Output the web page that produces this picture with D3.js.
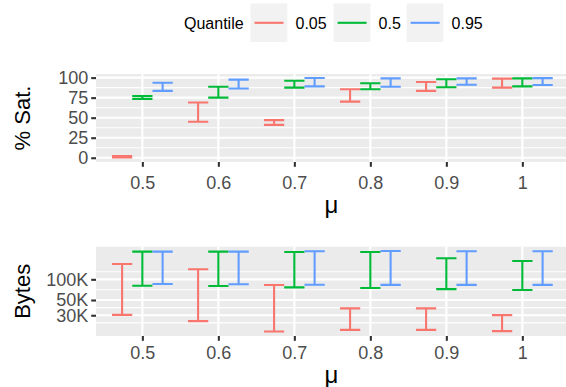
<!DOCTYPE html>
<html>
<head>
<meta charset="utf-8">
<script src="https://cdn.jsdelivr.net/npm/d3@7"></script>
<style>
  body { margin: 0; background: #fff; }
  svg { display: block; font-family: "Liberation Sans", Arial, sans-serif; }
</style>
</head>
<body>
<svg id="chart" width="566" height="387"></svg>
<script>
// categories
const mu = [0.5, 0.6, 0.7, 0.8, 0.9, 1];
const quantiles = ["0.05", "0.5", "0.95"];
const colors = ["#F8766D", "#00BA38", "#619CFF"];

// % Sat. (lower / upper end of each error bar)
const sat05Lo = [0.3, 45, 41, 70, 83.5, 87.5];
const sat05Hi = [2, 69, 47, 85.5, 94.5, 98.7];
const sat50Lo = [73.5, 75, 87.5, 85.5, 88, 89];
const sat50Hi = [77, 88.5, 96, 93, 98, 99];
const sat95Lo = [83.5, 86.5, 89, 88.5, 91, 90.8];
const sat95Hi = [93.5, 97.5, 99.5, 99, 99, 99.4];

// Bytes
const bytes05Lo = [30400, 24600, 17400, 18400, 18400, 17600];
const bytes05Hi = [167000, 140000, 82600, 37800, 37800, 30100];
const bytes50Lo = [80700, 79800, 76400, 74600, 72100, 69800];
const bytes50Hi = [253000, 253000, 250000, 250000, 203000, 185000];
const bytes95Lo = [85400, 85000, 83400, 83000, 83000, 83000];
const bytes95Hi = [253000, 253000, 256000, 259000, 256000, 256000];

// ticks
const muTicks = [0.5, 0.6, 0.7, 0.8, 0.9, 1];
const satTicks = [0, 25, 50, 75, 100];
const bytesTicks = [30000, 50000, 100000];
const bytesTickLabels = ["30K", "50K", "100K"];

const satSeries = [[sat05Lo, sat05Hi], [sat50Lo, sat50Hi], [sat95Lo, sat95Hi]];
const bytesSeries = [[bytes05Lo, bytes05Hi], [bytes50Lo, bytes50Hi], [bytes95Lo, bytes95Hi]];

const svg = d3.select("#chart");
const panelLeft = 96, panelRight = 568.7;
const dodge = 0.08, capW = 0.08 / 3;

var x = d3.scaleLinear().domain([0.439, 1.061]).range([panelLeft, panelRight]);

// ggplot-like minor breaks (midpoints, extended by first step)
function minorBreaks(b, lo, hi) {
  b = b.slice();
  const bd = b[1] - b[0];
  if (lo < b[0]) b.unshift(b[0] - bd);
  if (hi > b[b.length - 1]) b.push(b[b.length - 1] + bd);
  const out = [];
  for (let i = 0; i < b.length - 1; i++) out.push((b[i] + b[i + 1]) / 2);
  return out.filter(v => v > lo && v < hi);
}

function panel({ top, bottom, y, ticks, tickLabels, minor, series, title, xPad, muY }) {
  const g = svg.append("g");
  g.append("rect")
    .attr("x", panelLeft).attr("y", top)
    .attr("width", panelRight - panelLeft).attr("height", bottom - top)
    .attr("fill", "#EBEBEB");

  g.selectAll(".minor").data(minor).join("line")
    .attr("x1", panelLeft).attr("x2", panelRight)
    .attr("y1", d => y(d)).attr("y2", d => y(d))
    .attr("stroke", "#fff").attr("stroke-width", 1.05);
  g.selectAll(".hmaj").data(ticks).join("line")
    .attr("x1", panelLeft).attr("x2", panelRight)
    .attr("y1", d => y(d)).attr("y2", d => y(d))
    .attr("stroke", "#fff").attr("stroke-width", 2.1);
  g.selectAll(".vmaj").data(muTicks).join("line")
    .attr("y1", top).attr("y2", bottom)
    .attr("x1", d => x(d)).attr("x2", d => x(d))
    .attr("stroke", "#fff").attr("stroke-width", 2.1);

  // error bars
  series.forEach(([lo, hi], qi) => {
    const off = (qi - 1) * dodge / 3;
    const bars = mu.map((m, i) => ({ cx: m + off, lo: lo[i], hi: hi[i] }));
    const eg = g.append("g").attr("stroke", colors[qi]).attr("stroke-width", 2.1).attr("fill", "none");
    eg.selectAll("path").data(bars).join("path")
      .attr("d", d => {
        const x0 = x(d.cx - capW / 2), x1 = x(d.cx + capW / 2), xc = x(d.cx);
        return `M${x0},${y(d.hi)}H${x1}M${xc},${y(d.hi)}V${y(d.lo)}M${x0},${y(d.lo)}H${x1}`;
      });
  });

  // axes
  const ya = g.append("g").attr("transform", `translate(${panelLeft},0)`)
    .call(d3.axisLeft(y).tickValues(ticks).tickSize(4.8).tickPadding(3)
      .tickFormat((d, i) => tickLabels ? tickLabels[i] : d));
  const xa = g.append("g").attr("transform", `translate(0,${bottom})`)
    .call(d3.axisBottom(x).tickValues(muTicks).tickSize(4.8).tickPadding(xPad)
      .tickFormat(d3.format("")));
  [ya, xa].forEach(a => {
    a.select(".domain").remove();
    a.selectAll(".tick line").attr("stroke", "#333333").attr("stroke-width", 2.1);
    a.selectAll(".tick text").attr("fill", "#4D4D4D").style("font-size", "18px");
  });

  g.append("text")
    .attr("transform", `translate(30,${(top + bottom) / 2}) rotate(-90)`)
    .attr("text-anchor", "middle").style("font-size", "22px").text(title);
  g.append("text")
    .attr("x", (panelLeft + panelRight) / 2 - 1).attr("y", muY)
    .attr("text-anchor", "middle").style("font-size", "24px").text("μ");
}

const ySat = d3.scaleLinear().domain([-5.3, 104.5]).range([162, 74]);
panel({
  top: 74, bottom: 162, y: ySat, ticks: satTicks, tickLabels: null,
  minor: minorBreaks(satTicks, -5.3, 104.5), series: satSeries, title: "% Sat.",
  xPad: 9.5, muY: 213
});

const yBytes = d3.scaleLog().domain([Math.pow(10, 4.175), Math.pow(10, 5.475)]).range([336, 246.7]);
const logMinor = minorBreaks(bytesTicks.map(Math.log10), 4.175, 5.475).map(v => Math.pow(10, v));
panel({
  top: 246.7, bottom: 336, y: yBytes, ticks: bytesTicks, tickLabels: bytesTickLabels,
  minor: logMinor, series: bytesSeries, title: "Bytes",
  xPad: 5.5, muY: 382.5
});

// legend
const lg = svg.append("g").style("font-size", "16px");
lg.append("text").attr("x", 184).attr("y", 28.5).text("Quantile");
const keyX = [250.5, 333.6, 406.6];
quantiles.forEach((q, i) => {
  lg.append("rect").attr("x", keyX[i]).attr("y", 3.5).attr("width", 36.8).attr("height", 38.5)
    .attr("fill", "#F2F2F2");
  lg.append("line").attr("x1", keyX[i] + 4).attr("x2", keyX[i] + 33)
    .attr("y1", 22.8).attr("y2", 22.8)
    .attr("stroke", colors[i]).attr("stroke-width", 2.1);
  lg.append("text").attr("x", keyX[i] + 45).attr("y", 28.5).text(q);
});
</script>
</body>
</html>
